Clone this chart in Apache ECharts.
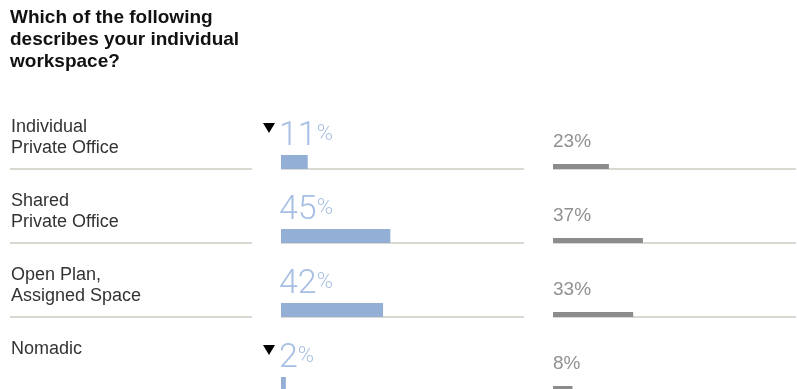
<!DOCTYPE html>
<html><head><meta charset="utf-8">
<script src="https://cdn.jsdelivr.net/npm/echarts@6/dist/echarts.min.js"></script>
<style>html,body{margin:0;padding:0;background:#fff}#c{width:797px;height:389px}</style>
</head><body><div id="c"></div>
<script>
const titleText = 'Which of the following\ndescribes your individual\nworkspace?';
const categories = ['Individual\nPrivate Office', 'Shared\nPrivate Office', 'Open Plan,\nAssigned Space', 'Nomadic'];
const currentValues = [11, 45, 42, 2];
const benchmarkValues = [23, 37, 33, 8];
const downMarker = [true, false, false, true];

const FONT = '"Liberation Sans", Arial, Helvetica, sans-serif';
const LINE = '#cdcdc2';
const BLUE = '#94afd6';
const BLUE_TXT = '#a7bfe2';
const GRAY = '#8c8c8c';

const chart = echarts.init(document.getElementById('c'), null, {renderer: 'canvas'});

function band(api, idx) {
  const s = api.coord([0, idx]);
  const h = api.size([0, 1])[1];
  return {x0: s[0], yc: s[1], top: s[1] - h / 2, bottom: s[1] + h / 2};
}

function labelRender(params, api) {
  const idx = api.value(1);
  const b = band(api, idx);
  const full = api.coord([100, idx]);
  return {type: 'group', children: [
    {type: 'line', shape: {x1: b.x0, y1: b.bottom, x2: full[0], y2: b.bottom}, style: {stroke: LINE, lineWidth: 1.5}},
    {type: 'text', x: b.x0 + 1, y: b.top + 22, style: {text: categories[idx], font: '18px ' + FONT, fill: '#333', lineHeight: 21, verticalAlign: 'top', align: 'left'}}
  ]};
}

function blueRender(params, api) {
  const v = api.value(0), idx = api.value(1);
  const b = band(api, idx);
  const end = api.coord([v, idx]);
  const full = api.coord([100, idx]);
  const children = [
    {type: 'line', shape: {x1: b.x0, y1: b.bottom, x2: full[0], y2: b.bottom}, style: {stroke: LINE, lineWidth: 1.5}},
    {type: 'rect', shape: {x: b.x0, y: b.bottom - 14, width: end[0] - b.x0, height: 14}, style: {fill: BLUE}},
    {type: 'text', x: b.x0 - 2, y: b.top + 58, style: {
      text: '{n|' + v + '}{p|%}', verticalAlign: 'bottom', align: 'left',
      rich: {
        n: {font: '300 34px Roboto, ' + FONT, fill: BLUE_TXT, verticalAlign: 'bottom', lineHeight: 30},
        p: {font: '300 22px Roboto, ' + FONT, fill: BLUE_TXT, verticalAlign: 'top', lineHeight: 28}
      }
    }}
  ];
  if (downMarker[idx]) {
    const tx = b.x0 - 18, ty = b.top + 28;
    children.push({type: 'polygon', shape: {points: [[tx, ty], [tx + 12, ty], [tx + 6, ty + 10]]}, style: {fill: '#000'}});
  }
  return {type: 'group', children};
}

function grayRender(params, api) {
  const v = api.value(0), idx = api.value(1);
  const b = band(api, idx);
  const end = api.coord([v, idx]);
  const full = api.coord([100, idx]);
  return {type: 'group', children: [
    {type: 'line', shape: {x1: b.x0, y1: b.bottom, x2: full[0], y2: b.bottom}, style: {stroke: LINE, lineWidth: 1.5}},
    {type: 'rect', shape: {x: b.x0, y: b.bottom - 5, width: end[0] - b.x0, height: 5}, style: {fill: GRAY}},
    {type: 'text', x: b.x0, y: b.top + 56, style: {text: v + '%', font: '19px ' + FONT, fill: '#909090', verticalAlign: 'bottom', align: 'left'}}
  ]};
}

const grids = [
  {left: 10, top: 95, width: 242, height: 296, outerBoundsMode: 'none'},
  {left: 281, top: 95, width: 243, height: 296, outerBoundsMode: 'none'},
  {left: 553, top: 95, width: 243, height: 296, outerBoundsMode: 'none'}
];
const xAxes = grids.map((g, i) => ({type: 'value', gridIndex: i, min: 0, max: 100, show: false}));
const yAxes = grids.map((g, i) => ({type: 'category', gridIndex: i, data: categories, inverse: true, show: false}));

chart.setOption({
  animation: false,
  title: {text: titleText, left: 10, top: 7, padding: 0, textStyle: {fontFamily: FONT, fontSize: 19, fontWeight: 'bold', color: '#111', lineHeight: 22}},
  grid: grids,
  xAxis: xAxes,
  yAxis: yAxes,
  series: [
    {type: 'custom', xAxisIndex: 0, yAxisIndex: 0, renderItem: labelRender, data: categories.map((c, i) => [0, i]), encode: {x: 0, y: 1}},
    {type: 'custom', xAxisIndex: 1, yAxisIndex: 1, renderItem: blueRender, data: currentValues.map((v, i) => [v, i]), encode: {x: 0, y: 1}},
    {type: 'custom', xAxisIndex: 2, yAxisIndex: 2, renderItem: grayRender, data: benchmarkValues.map((v, i) => [v, i]), encode: {x: 0, y: 1}}
  ]
});
</script></body></html>
